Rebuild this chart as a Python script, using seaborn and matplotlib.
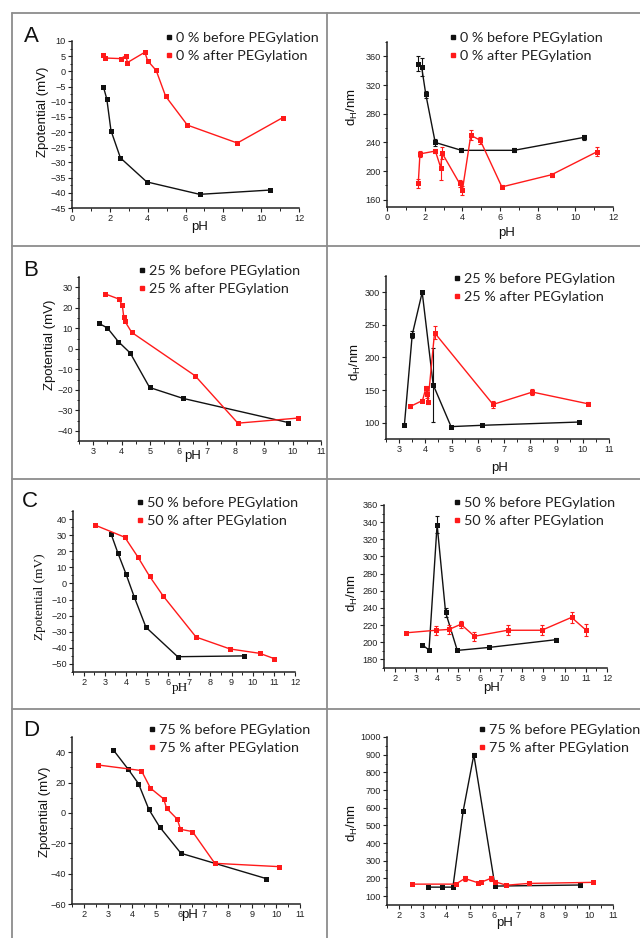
import matplotlib
matplotlib.use('Agg')
import matplotlib.pyplot as plt
import matplotlib.ticker as mticker
from matplotlib.lines import Line2D
import seaborn as sns

W, H = 640, 938
BLACK = '#111111'
RED = '#ff1a1a'
GRID = '#8c8c8c'

# ---- panel A: 0 % ----
a_before_ph = [1.66, 1.84, 2.06, 2.56, 3.95, 6.75, 10.45]
a_before_zp = [-5.1, -9.1, -19.5, -28.5, -36.4, -40.5, -39.1]
a_before_dh = [350, 345, 307, 240, 229, 229, 247]
a_before_dh_err = [10, 12, 5, 5, 3, 3, 4]
a_after_ph = [1.66, 1.75, 2.57, 2.85, 2.93, 3.85, 4.0, 4.45, 4.95, 6.1, 8.74, 11.15]
a_after_zp = [5.3, 4.4, 4.2, 5.2, 2.9, 6.3, 3.5, 0.3, -8.2, -17.7, -23.6, -15.2]
a_after_dh = [183, 224, 228, 205, 225, 183, 173, 250, 243, 178, 195, 227]
a_after_dh_err = [6, 4, 3, 17, 8, 5, 6, 7, 5, 2, 3, 6]

# ---- panel B: 25 % ----
b_before_ph = [3.2, 3.5, 3.88, 4.3, 4.98, 6.15, 9.85]
b_before_zp = [12.4, 10.1, 3.5, -2.1, -18.9, -24.2, -36.0]
b_before_dh = [96, 235, 300, 158, 94, 96, 101]
b_before_dh_err = [0, 5, 2, 57, 1, 1, 2]
b_after_ph = [3.43, 3.89, 4.02, 4.07, 4.1, 4.35, 6.58, 8.08, 10.2]
b_after_zp = [26.7, 24.3, 21.4, 15.7, 13.7, 8.0, -13.2, -36.3, -33.8]
b_after_dh = [125, 134, 153, 144, 132, 238, 128, 147, 129]
b_after_dh_err = [2, 3, 3, 6, 3, 10, 5, 4, 2]

# ---- panel C: 50 % ----
c_before_ph = [3.3, 3.62, 4.0, 4.4, 4.95, 6.45, 9.6]
c_before_zp = [30.8, 19.0, 6.1, -8.5, -27.2, -45.5, -45.0]
c_before_dh = [197, 191, 337, 235, 190.5, 194, 203]
c_before_dh_err = [0, 0, 10, 5, 1, 1, 2]
c_after_ph = [2.53, 3.95, 4.57, 5.12, 5.76, 7.32, 8.93, 10.33, 11.02]
c_after_zp = [36.3, 28.7, 16.4, 4.5, -7.7, -33.3, -40.7, -43.4, -46.7]
c_after_dh = [211, 214, 215, 221, 207, 214, 214, 229, 214]
c_after_dh_err = [1, 5, 5, 4, 5, 6, 6, 6, 7]

# ---- panel D: 75 % ----
d_before_ph = [3.22, 3.83, 4.27, 4.7, 5.15, 6.04, 9.6]
d_before_zp = [41.5, 29.0, 19.3, 2.4, -9.2, -26.6, -43.3]
d_before_dh = [151, 151, 151, 580, 899, 157, 163]
d_before_dh_err = [0, 0, 0, 5, 8, 5, 12]
d_after_ph = [2.57, 4.39, 4.77, 5.32, 5.44, 5.89, 6.02, 6.52, 7.45, 10.14]
d_after_zp = [31.6, 27.9, 16.3, 9.2, 3.1, -4.2, -10.8, -12.3, -33.2, -35.4]
d_after_dh = [168, 168, 200, 176, 178, 202, 182, 162, 172, 178]
d_after_dh_err = [3, 3, 12, 4, 4, 14, 10, 5, 4, 4]

percents = ['0 %', '25 %', '50 %', '75 %']
letters = ['A', 'B', 'C', 'D']

sns.set_style('ticks')
plt.rcParams['font.family'] = ['Liberation Sans', 'DejaVu Sans']
plt.rcParams['mathtext.fontset'] = 'custom'
plt.rcParams['mathtext.rm'] = 'Liberation Sans'

fig = plt.figure(figsize=(W / 100, H / 100), dpi=100)


def add_ax(left, top, right, bottom):
    return fig.add_axes([left / W, 1 - bottom / H, (right - left) / W, (bottom - top) / H])


def fx(px):
    return px / W


def fy(py):
    return 1 - py / H


def style_ax(ax, xlim, xmaj, ylim, ymaj, yticks):
    ax.set_xlim(*xlim)
    ax.set_ylim(*ylim)
    ax.xaxis.set_major_locator(mticker.MultipleLocator(xmaj))
    ax.xaxis.set_minor_locator(mticker.MultipleLocator(xmaj / 2))
    ax.set_yticks(yticks)
    ax.yaxis.set_minor_locator(mticker.MultipleLocator(ymaj / 2))
    sns.despine(ax=ax)
    for s in ['left', 'bottom']:
        ax.spines[s].set_linewidth(1.1)
        ax.spines[s].set_color('#222222')
    ax.tick_params(which='major', direction='out', length=3, width=0.8,
                   labelsize=6.6, pad=1.5, colors='#222222')
    ax.tick_params(which='minor', direction='out', length=1.8, width=0.7, colors='#222222')
    ax.patch.set_alpha(0)


def draw_series(ax, x, y, color, err=None):
    sns.lineplot(x=x, y=y, ax=ax, color=color, marker='s', markersize=3.6,
                 markeredgewidth=0, linewidth=1.0, sort=False, errorbar=None)
    if err is not None:
        ax.errorbar(x, y, yerr=err, fmt='none', ecolor=color, elinewidth=0.8,
                    capsize=1.6, capthick=0.8)


def add_legend(ax, pct, mx, y1, y2):
    handles = [Line2D([], [], marker='s', color=BLACK, linestyle='none', markersize=3.4),
               Line2D([], [], marker='s', color=RED, linestyle='none', markersize=3.4)]
    labels = [f'{pct} before PEGylation', f'{pct} after PEGylation']
    leg = ax.legend(handles, labels, loc='center left',
                    bbox_to_anchor=(fx(mx - 2.6), fy((y1 + y2) / 2)),
                    bbox_transform=fig.transFigure, frameon=False,
                    handlelength=0.4, handletextpad=0.25, labelspacing=0.42,
                    borderpad=0, borderaxespad=0,
                    prop={'family': 'Lato', 'size': 10.4})
    for t in leg.get_texts():
        t.set_color('#222222')


def set_labels(ax, box, ylab, ylab_xy, xlab_xy, serif=False):
    left, top, right, bottom = box
    fam = ['Liberation Serif'] if serif else ['Liberation Sans']
    ax.set_ylabel(ylab, fontsize=9.5, family=fam, va='center', ha='center', color='#111111')
    ax.yaxis.set_label_coords((ylab_xy[0] - left) / (right - left),
                              (bottom - ylab_xy[1]) / (bottom - top))
    ax.set_xlabel('pH', fontsize=9.5, family=fam, va='center', ha='center', color='#111111')
    ax.xaxis.set_label_coords((xlab_xy[0] - left) / (right - left),
                              (bottom - xlab_xy[1]) / (bottom - top))


# axes boxes in pixels (left, top, right, bottom)
zp_boxes = [(72, 41, 299, 208), (79, 277, 321, 441), (73, 511, 295, 672), (72, 737, 300, 904)]
dh_boxes = [(387, 42, 613, 207), (386, 276, 609, 439), (384, 505, 607, 668), (387, 737, 613, 905)]

zp_xlims = [(0, 12), (2.5, 11), (1.5, 12), (1.5, 11)]
zp_xmaj = [2, 1, 1, 1]
zp_ylims = [(-45, 10), (-45, 35), (-55, 45), (-60, 50)]
zp_ymaj = [5, 10, 10, 20]
zp_yticks = [range(-45, 11, 5), range(-40, 31, 10), range(-50, 41, 10), range(-60, 41, 20)]

dh_ylims = [(150, 380), (75, 325), (170, 360), (50, 1000)]
dh_ymaj = [40, 50, 20, 100]
dh_yticks = [range(160, 361, 40), range(100, 301, 50), range(180, 361, 20), range(100, 1001, 100)]

series = [
    (a_before_ph, a_before_zp, a_before_dh, a_before_dh_err, a_after_ph, a_after_zp, a_after_dh, a_after_dh_err),
    (b_before_ph, b_before_zp, b_before_dh, b_before_dh_err, b_after_ph, b_after_zp, b_after_dh, b_after_dh_err),
    (c_before_ph, c_before_zp, c_before_dh, c_before_dh_err, c_after_ph, c_after_zp, c_after_dh, c_after_dh_err),
    (d_before_ph, d_before_zp, d_before_dh, d_before_dh_err, d_after_ph, d_after_zp, d_after_dh, d_after_dh_err),
]

zp_legend = [(169, 37, 57), (142, 270, 290), (140, 502, 522), (152, 729, 749)]
dh_legend = [(453, 37, 57), (457, 278, 298), (457, 502, 522), (482, 729, 749)]
zp_ylab = [(43, 112), (50, 345), (40, 597), (45, 812)]
zp_xlab = [(200, 227), (193, 456), (180, 688), (190, 915)]
dh_ylab = [(352, 107), (355, 362), (352, 593), (352, 823)]
dh_xlab = [(507, 233), (500, 468), (492, 688), (505, 923)]
letter_pos = [(31, 37), (31, 270), (30, 501), (31, 730)]

for i in range(4):
    bx, bz, bd, bde, ax_, az, ad, ade = series[i]

    ax = add_ax(*zp_boxes[i])
    draw_series(ax, bx, bz, BLACK)
    draw_series(ax, ax_, az, RED)
    style_ax(ax, zp_xlims[i], zp_xmaj[i], zp_ylims[i], zp_ymaj[i], list(zp_yticks[i]))
    set_labels(ax, zp_boxes[i], 'Zpotential (mV)', zp_ylab[i], zp_xlab[i], serif=(i == 2))
    add_legend(ax, percents[i], *zp_legend[i])

    ax2 = add_ax(*dh_boxes[i])
    draw_series(ax2, bx, bd, BLACK, bde)
    draw_series(ax2, ax_, ad, RED, ade)
    style_ax(ax2, zp_xlims[i], zp_xmaj[i], dh_ylims[i], dh_ymaj[i], list(dh_yticks[i]))
    set_labels(ax2, dh_boxes[i], r'd$_\mathregular{H}$/nm', dh_ylab[i], dh_xlab[i])
    add_legend(ax2, percents[i], *dh_legend[i])

    fig.text(fx(letter_pos[i][0]), fy(letter_pos[i][1]), letters[i], fontsize=16,
             ha='center', va='center', color='#111111')

# panel frame lines
for yy in [13, 246, 479, 709]:
    fig.add_artist(Line2D([fx(12), 1], [fy(yy), fy(yy)], color=GRID, linewidth=1.3))
for xx in [12, 327]:
    fig.add_artist(Line2D([fx(xx), fx(xx)], [fy(13), 0], color=GRID, linewidth=1.3))

fig.savefig('out.png', dpi=100, facecolor='white')
